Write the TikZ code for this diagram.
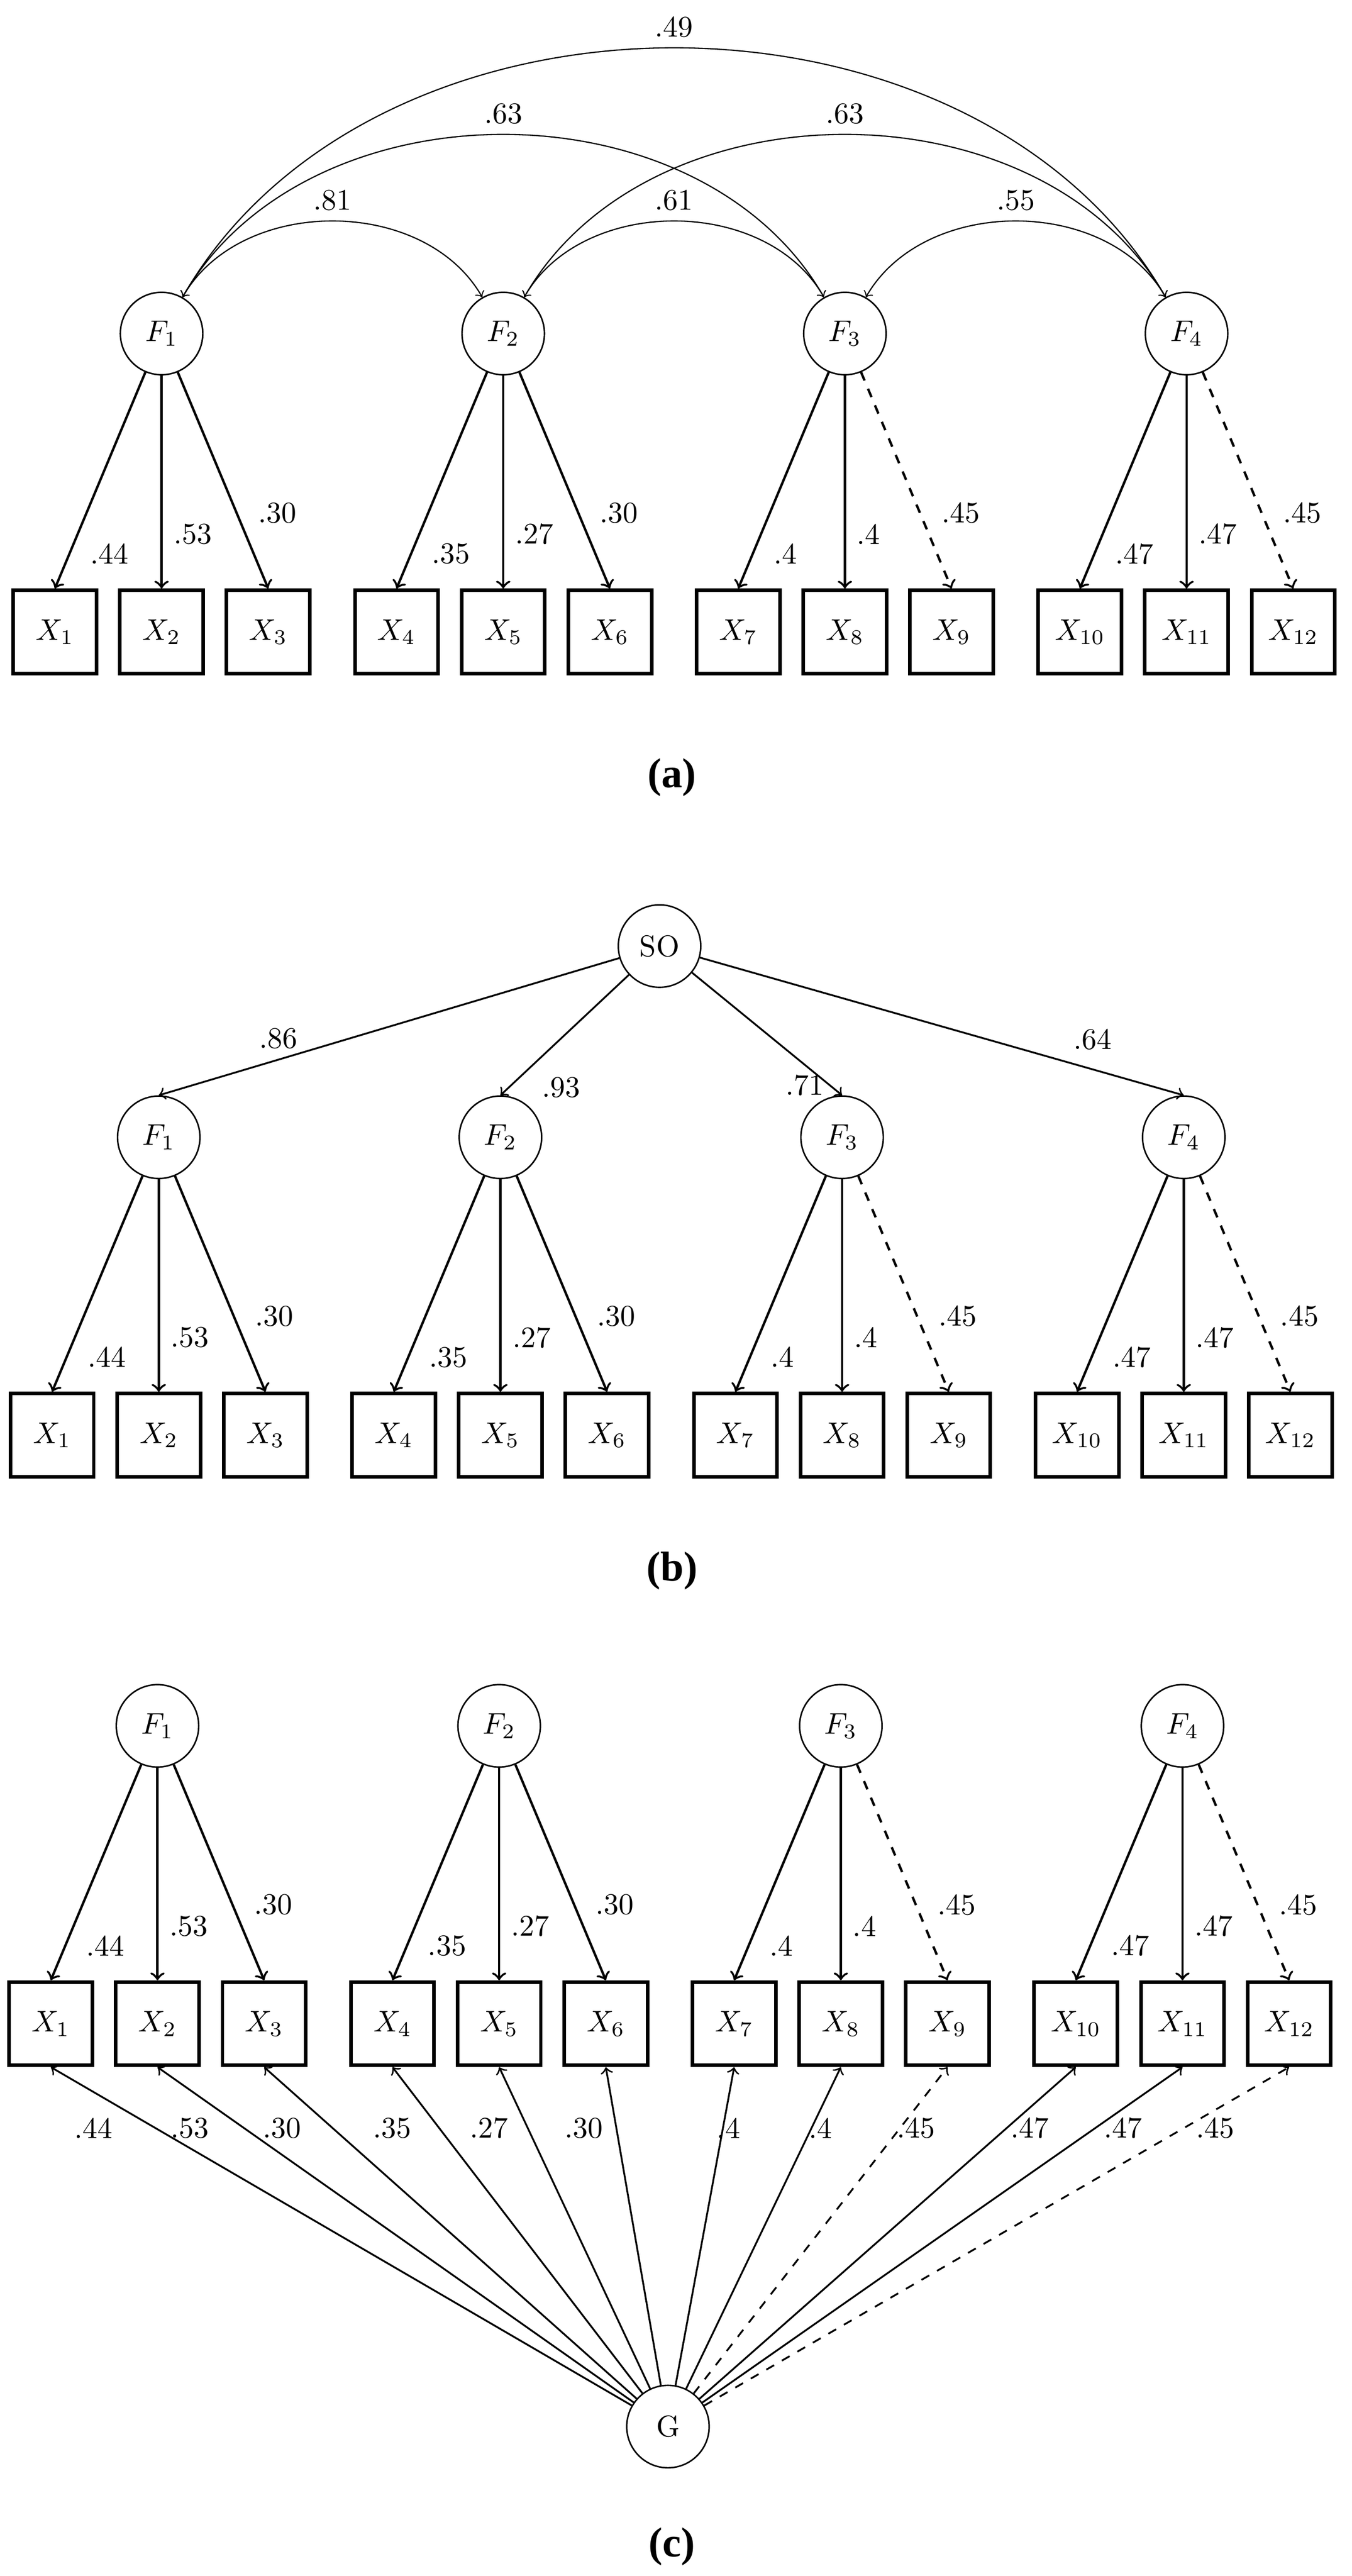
\documentclass[tikz,border=0pt]{standalone}
\usepackage{amsmath}
\usepackage{fontspec}
\newfontfamily\capfont{Liberation Serif}
\usetikzlibrary{arrows}

\tikzset{
  latent/.style     = {circle, draw, line width=0.5pt, minimum size=0.97cm, inner sep=0pt},
  observed/.style   = {rectangle, draw, very thick, minimum size=0.98cm, inner sep=0pt},
  load/.style       = {->, thick},
  reg/.style        = {->, semithick},
  corr/.style       = {<->, thin},
  lab0/.style       = {pos=.84, right, xshift=3.3pt},
  lab1/.style       = {pos=.745, right, xshift=0.3pt},
  lab2/.style       = {pos=.65, right, xshift=3.5pt},
  panellabel/.style = {font=\fontsize{14}{17}\selectfont\capfont\bfseries},
}

\begin{document}
\begin{tikzpicture}
\useasboundingbox (0,0) rectangle (15.903,-30.300);

% factor and indicator block, the same in all three panels
\foreach \p/\dx/\yf/\yx in {a/0/-3.923/-7.433, b/-0.033/-13.377/-16.881, c/-0.048/-20.300/-23.803}{
  \foreach \k in {1,...,4}
    \node[latent] (\p F\k) at ({1.901+4.02*(\k-1)+(\dx)}, \yf) {$F_{\k}$};
  \foreach \k in {1,...,12}{
    \pgfmathsetmacro\xx{0.646+4.02*int((\k-1)/3)+1.255*mod(\k-1,3)+(\dx)}
    \node[observed] (\p X\k) at (\xx, \yx) {$X_{\k}$};
  }
  \foreach \k/\v/\s in {1/.44/solid, 2/.53/solid, 3/.30/solid, 4/.35/solid, 5/.27/solid, 6/.30/solid,
                        7/.4/solid, 8/.4/solid, 9/.45/dashed, 10/.47/solid, 11/.47/solid, 12/.45/dashed}{
    \pgfmathtruncatemacro\f{int((\k-1)/3)+1}
    \pgfmathtruncatemacro\i{mod(\k-1,3)}
    \draw[load, \s] (\p F\f) -- (\p X\k.north) node[lab\i] {\v};
  }
}

% (a) correlated factors
\draw[corr] (aF1) to[out=60, in=120] node[above] {.81} (aF2);
\draw[corr] (aF1) to[out=60, in=120] node[above] {.63} (aF3);
\draw[corr] (aF1) to[out=60, in=120] node[above] {.49} (aF4);
\draw[corr] (aF2) to[out=60, in=120] node[above] {.61} (aF3);
\draw[corr] (aF2) to[out=60, in=120] node[above] {.63} (aF4);
\draw[corr] (aF3) to[out=60, in=120] node[above] {.55} (aF4);
\node[panellabel] (capa) at (7.906,-9.145) {(a)};

% (b) second order factor
\node[latent] (bSO) at (7.760,-11.128) {SO};
\draw[reg] (bSO) -- (bF1.north) node[pos=.74, above] {.86};
\draw[reg] (bSO) -- (bF2.north) node[pos=.76, below right] {.93};
\draw[reg] (bSO) -- (bF3.north) node[pos=.92, left, xshift=1.5pt] {.71};
\draw[reg] (bSO) -- (bF4.north) node[pos=.75, above right] {.64};
\node[panellabel] (capb) at (7.906,-18.476) {(b)};

% (c) bifactor
\node[latent] (cG) at (7.859,-28.542) {G};
\foreach \k/\v/\s/\lx in {1/.44/solid/1.098, 2/.53/solid/2.232, 3/.30/solid/3.317, 4/.35/solid/4.613,
                          5/.27/solid/5.753, 6/.30/solid/6.869, 7/.4/solid/8.572, 8/.4/solid/9.652,
                          9/.45/dashed/10.780, 10/.47/solid/12.118, 11/.47/solid/13.215, 12/.45/dashed/14.301}{
  \draw[reg, \s] (cG) -- (cX\k.south);
  \node (cl\k) at (\lx,-25.033) {\v};
}
\node[panellabel] (capc) at (7.906,-29.954) {(c)};
\end{tikzpicture}
\end{document}
